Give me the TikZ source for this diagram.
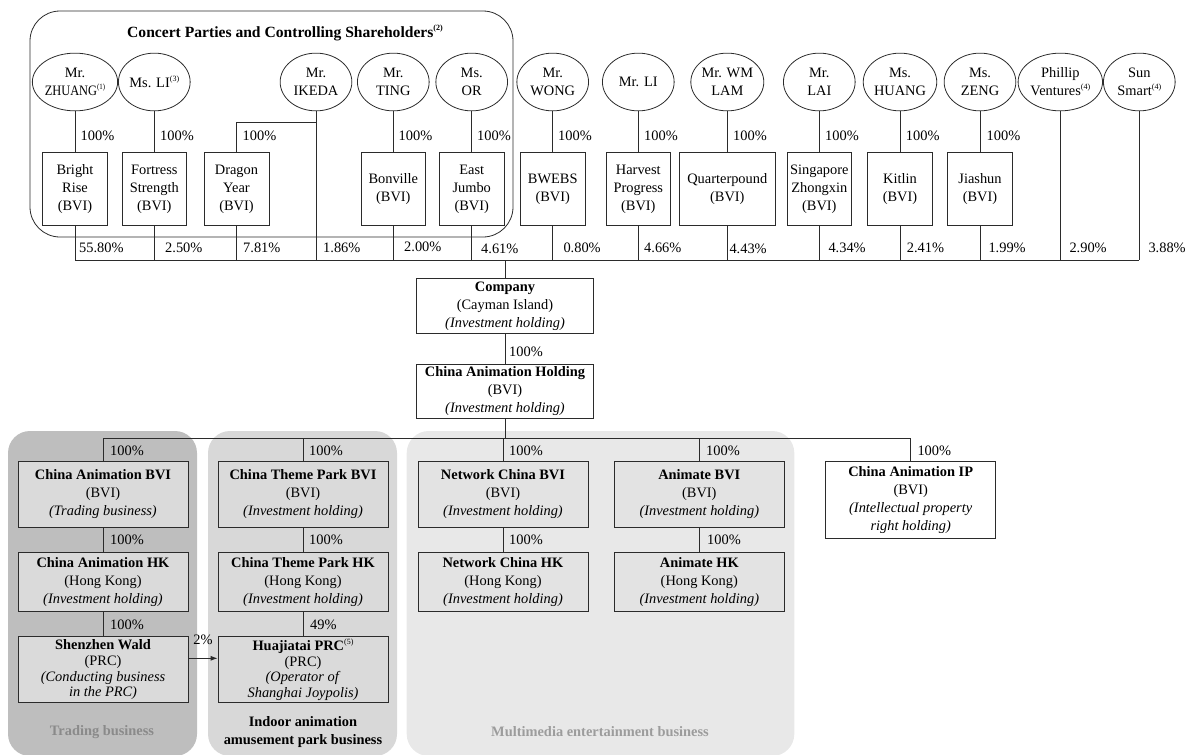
\documentclass[tikz,border=0pt]{standalone}
\usepackage{fontspec}
\setmainfont{Liberation Serif}
\usetikzlibrary{shapes.geometric,arrows.meta}
\definecolor{ln}{HTML}{2B2B2B}
\definecolor{trd}{HTML}{BEBEBE}
\definecolor{ind}{HTML}{D8D8D8}
\definecolor{mmc}{HTML}{E8E8E8}
\definecolor{bxg}{HTML}{DADADA}
\definecolor{bxm}{HTML}{E3E3E3}
\definecolor{lblg}{HTML}{8A8A8A}
\newcommand{\supn}[1]{\raisebox{0.42em}{\fontsize{8}{8}\selectfont(#1)}}
\newcommand{\tightfs}{\fontsize{14.4}{15.7}\selectfont}
\begin{document}
\begin{tikzpicture}[x=1pt,y=-1pt,
  every node/.append style={font=\fontsize{14.4}{18}\selectfont, text=black},
  ell/.style={ellipse, draw=ln, line width=0.8pt, minimum width=71.7, minimum height=57.7, inner sep=0pt, align=center},
  topbox/.style={draw=ln, line width=0.8pt, minimum height=73.4, inner sep=1pt, align=center, fill=white},
  midbox/.style={draw=ln, line width=0.8pt, minimum width=176.6, minimum height=54.3, inner sep=1pt, align=center, fill=white},
  lowbox/.style={draw=ln, line width=0.8pt, minimum width=170, inner sep=1pt, align=center, fill=#1},
  pct/.style={anchor=west, inner sep=0pt},
  conn/.style={draw=ln, line width=0.8pt},
  panel/.style={rounded corners=22}
]
\useasboundingbox (0,0) rectangle (1189,755);

% panels
\fill[trd, panel] (8,431) rectangle (197,756);
\fill[ind, panel] (208,431) rectangle (397,756);
\fill[mmc, panel] (406.7,431) rectangle (794.3,756);

% concert group frame
\draw[ln, line width=0.8pt, rounded corners=30] (30,11) rectangle (513,237);
\node[font=\fontsize{15.6}{18}\selectfont\bfseries] (title) at (285,33) {Concert Parties and Controlling Shareholders\supn{2}};

% coordinates
\coordinate (busy) at (0,260);
\coordinate (ikj) at (0,122);
\coordinate (lby) at (0,438.3);
\coordinate (arry) at (0,658.3);

% ellipses
\node[ell] (eZH) at (75,82) {Mr.\\\scalebox{0.86}[1]{ZHUANG\supn{1}}};
\node[ell] (eLI) at (154.3,82) {Ms. LI\supn{3}};
\node[ell] (eIK) at (316,82) {Mr.\\IKEDA};
\node[ell] (eTI) at (393.3,82) {Mr.\\TING};
\node[ell] (eOR) at (471.7,82) {Ms.\\OR};
\node[ell] (eWO) at (552.7,82) {Mr.\\WONG};
\node[ell] (eML) at (638.3,82) {Mr. LI};
\node[ell] (eWM) at (727.3,82) {Mr. WM\\LAM};
\node[ell] (eLA) at (819.3,82) {Mr.\\LAI};
\node[ell] (eHU) at (900,82) {Ms.\\HUANG};
\node[ell] (eZE) at (980,82) {Ms.\\ZENG};
\node[ell] (ePV) at (1060.3,82) {Phillip\\Ventures\supn{4}};
\node[ell] (eSS) at (1139.3,82) {Sun\\Smart\supn{4}};

% top boxes
\node[topbox, minimum width=65] (bBR) at (75,189) {Bright\\Rise\\(BVI)};
\node[topbox, minimum width=64] (bFS) at (154.3,189) {Fortress\\Strength\\(BVI)};
\node[topbox, minimum width=65] (bDY) at (236.5,189) {Dragon\\Year\\(BVI)};
\node[topbox, minimum width=64] (bBV) at (393.3,189) {Bonville\\(BVI)};
\node[topbox, minimum width=65] (bEJ) at (471.7,189) {East\\Jumbo\\(BVI)};
\node[topbox, minimum width=65] (bBW) at (552.7,189) {BWEBS\\(BVI)};
\node[topbox, minimum width=64.7] (bHP) at (638.3,189) {Harvest\\Progress\\(BVI)};
\node[topbox, minimum width=96.7] (bQP) at (727.3,189) {Quarterpound\\(BVI)};
\node[topbox, minimum width=64] (bSZ) at (819.3,189) {Singapore\\Zhongxin\\(BVI)};
\node[topbox, minimum width=64.6] (bKT) at (900,189) {Kitlin\\(BVI)};
\node[topbox, minimum width=65] (bJS) at (980,189) {Jiashun\\(BVI)};

% ellipse-to-box connectors
\foreach \e/\b in {eZH/bBR, eLI/bFS, eTI/bBV, eOR/bEJ, eWO/bBW, eML/bHP, eWM/bQP, eLA/bSZ, eHU/bKT, eZE/bJS}
  \draw[conn] (\e.south) -- (\e.south |- \b.north);
\draw[conn] (eIK.south) -- (eIK.south |- busy);
\draw[conn] (eIK.south |- ikj) -| (bDY.north);
\draw[conn] (ePV.south) -- (ePV.south |- busy);
\draw[conn] (eSS.south) -- (eSS.south |- busy);
\foreach \b in {bBR, bFS, bDY, bBV, bEJ, bBW, bHP, bQP, bSZ, bKT, bJS}
  \draw[conn] (\b.south) -- (\b.south |- busy);
\draw[conn] (bBR.south |- busy) -- (eSS.south |- busy);

% 100% labels top
\node[pct] (t1) at (80.5,136) {100\%};
\node[pct] (t2) at (160,136) {100\%};
\node[pct] (t3) at (242.5,136) {100\%};
\node[pct] (t4) at (398.5,136) {100\%};
\node[pct] (t5) at (477,136) {100\%};
\node[pct] (t6) at (558,136) {100\%};
\node[pct] (t7) at (644,136) {100\%};
\node[pct] (t8) at (733,136) {100\%};
\node[pct] (t9) at (825,136) {100\%};
\node[pct] (t10) at (905.7,136) {100\%};
\node[pct] (t11) at (986.5,136) {100\%};

% shareholding percentages
\node[pct] (s1) at (79,248) {55.80\%};
\node[pct] (s2) at (165,248) {2.50\%};
\node[pct] (s3) at (243,248) {7.81\%};
\node[pct] (s4) at (323,248) {1.86\%};
\node[pct] (s5) at (404,247) {2.00\%};
\node[pct] (s6) at (481,249) {4.61\%};
\node[pct] (s7) at (563.3,248) {0.80\%};
\node[pct] (s8) at (644,248) {4.66\%};
\node[pct] (s9) at (729.3,249) {4.43\%};
\node[pct] (s10) at (828.3,248) {4.34\%};
\node[pct] (s11) at (906.7,248) {2.41\%};
\node[pct] (s12) at (988.3,248) {1.99\%};
\node[pct] (s13) at (1069.3,248) {2.90\%};
\node[pct] (s14) at (1148.3,248) {3.88\%};

% company and holding
\node[midbox] (cmp) at (505,306) {\textbf{Company}\\(Cayman Island)\\\textit{(Investment holding)}};
\node[midbox] (cah) at (505,391.3) {\textbf{China Animation Holding}\\(BVI)\\\textit{(Investment holding)}};
\draw[conn] (cmp.north |- busy) -- (cmp.north);
\draw[conn] (cmp.south) -- (cah.north);
\node[pct] (pc) at (509,352) {100\%};

% lower boxes
\node[lowbox=bxg, minimum height=65.6] (cab) at (103,494.5) {\textbf{China Animation BVI}\\(BVI)\\\textit{(Trading business)}};
\node[lowbox=bxg, minimum height=58.3] (cah2) at (103,581.8) {\textbf{China Animation HK}\\(Hong Kong)\\\textit{(Investment holding)}};
\node[lowbox=bxg, minimum height=66, font=\tightfs] (sw) at (103,669.7) {\textbf{Shenzhen Wald}\\(PRC)\\\textit{(Conducting business}\\\textit{in the PRC)}};
\node[lowbox=bxg, minimum height=65.6] (ctb) at (303,494.5) {\textbf{China Theme Park BVI}\\(BVI)\\\textit{(Investment holding)}};
\node[lowbox=bxg, minimum height=58.3] (cth) at (303,581.8) {\textbf{China Theme Park HK}\\(Hong Kong)\\\textit{(Investment holding)}};
\node[lowbox=bxg, minimum height=66, font=\tightfs] (hj) at (303,669.7) {\textbf{Huajiatai PRC}\supn{5}\\(PRC)\\\textit{(Operator of}\\\textit{Shanghai Joypolis)}};
\node[lowbox=bxm, minimum height=65.6] (ncb) at (503,494.5) {\textbf{Network China BVI}\\(BVI)\\\textit{(Investment holding)}};
\node[lowbox=bxm, minimum height=58.3] (nch) at (503,581.8) {\textbf{Network China HK}\\(Hong Kong)\\\textit{(Investment holding)}};
\node[lowbox=bxm, minimum height=65.6] (anb) at (699.3,494.5) {\textbf{Animate BVI}\\(BVI)\\\textit{(Investment holding)}};
\node[lowbox=bxm, minimum height=58.3] (anh) at (699.3,581.8) {\textbf{Animate HK}\\(Hong Kong)\\\textit{(Investment holding)}};
\node[lowbox=white, minimum height=76.6] (cip) at (910.7,500) {\textbf{China Animation IP}\\(BVI)\\\textit{(Intellectual property}\\\textit{right holding)}};

% lower connectors
\draw[conn] (cah.south) -- (cah.south |- lby);
\draw[conn] (cab.north |- lby) -- (cip.north |- lby);
\foreach \b in {cab, ctb, ncb, anb, cip}
  \draw[conn] (\b.north |- lby) -- (\b.north);
\draw[conn] (cab.south) -- (cah2.north);
\draw[conn] (cah2.south) -- (sw.north);
\draw[conn] (ctb.south) -- (cth.north);
\draw[conn] (cth.south) -- (hj.north);
\draw[conn] (ncb.south) -- (nch.north);
\draw[conn] (anb.south) -- (anh.north);
\draw[conn, -{Latex[length=7,width=5]}] (sw.east |- arry) -- (hj.west |- arry);

% lower percentages
\node[pct] (l1) at (110,450.7) {100\%};
\node[pct] (l2) at (309,450.7) {100\%};
\node[pct] (l3) at (509,450.7) {100\%};
\node[pct] (l4) at (706,450.7) {100\%};
\node[pct] (l5) at (917.3,450.7) {100\%};
\node[pct] (l6) at (110,540) {100\%};
\node[pct] (l7) at (309,540) {100\%};
\node[pct] (l8) at (509,540) {100\%};
\node[pct] (l9) at (707,540) {100\%};
\node[pct] (l10) at (110,625) {100\%};
\node[pct] (l11) at (310,625) {49\%};
\node (p2) at (203,640) {2\%};

% panel labels
\node[text=lblg, font=\fontsize{14.4}{18}\selectfont\bfseries] (lt) at (102,731.7) {Trading business};
\node[align=center, font=\fontsize{14.4}{18}\selectfont\bfseries] (li) at (303,731.7) {Indoor animation\\amusement park business};
\node[text=lblg!85, font=\fontsize{14.4}{18}\selectfont\bfseries] (lm) at (600,731.7) {Multimedia entertainment business};
\end{tikzpicture}
\end{document}
